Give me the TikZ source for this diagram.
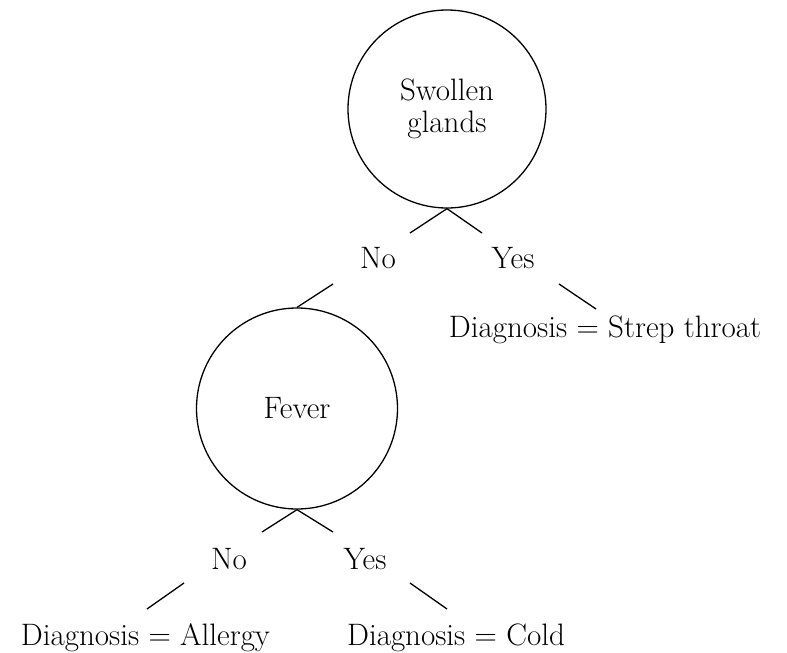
\documentclass[tikz,border=0pt]{standalone}
\begin{document}
\begin{tikzpicture}[x=1pt,y=-1pt,
  txt/.style={font=\fontsize{31}{32}\selectfont, inner sep=0pt},
  decision/.style={circle, draw, line width=1.3pt, inner sep=0pt, align=center, font=\fontsize{31}{32}\selectfont},
  edge/.style={line width=1.3pt}]
\useasboundingbox (0,0) rectangle (787,653);
% decision nodes
\node[decision, minimum size=198pt] (sg) at (447,109) {Swollen\\glands};
\node[decision, minimum size=201pt] (fv) at (297,408.5) {Fever};
% labels
\node[txt, anchor=base] (no1) at (378,268) {No};
\node[txt, anchor=base] (yes1) at (513,268) {Yes};
\node[txt, anchor=base] (strep) at (605,337) {Diagnosis = Strep throat};
\node[txt, anchor=base] (no2) at (229,569) {No};
\node[txt, anchor=base] (yes2) at (365,569) {Yes};
\node[txt, anchor=base] (allergy) at (145.5,645) {Diagnosis = Allergy};
\node[txt, anchor=base] (cold) at (456,645) {Diagnosis = Cold};
% free ends
\coordinate (a1) at (410,233);
\coordinate (b1) at (482,233);
\coordinate (a2) at (333,284);
\coordinate (b2) at (559,284);
\coordinate (b3) at (596,309);
\coordinate (c1) at (262,532);
\coordinate (d1) at (333,532);
\coordinate (c2) at (184,583);
\coordinate (c3) at (147,609);
\coordinate (d2) at (410,583);
\coordinate (d3) at (447,609);
% connectors
\draw[edge] (sg.south) -- (a1);
\draw[edge] (sg.south) -- (b1);
\draw[edge] (a2) -- (fv.north);
\draw[edge] (b2) -- (b3);
\draw[edge] (fv.south) -- (c1);
\draw[edge] (fv.south) -- (d1);
\draw[edge] (c2) -- (c3);
\draw[edge] (d2) -- (d3);
\end{tikzpicture}
\end{document}
